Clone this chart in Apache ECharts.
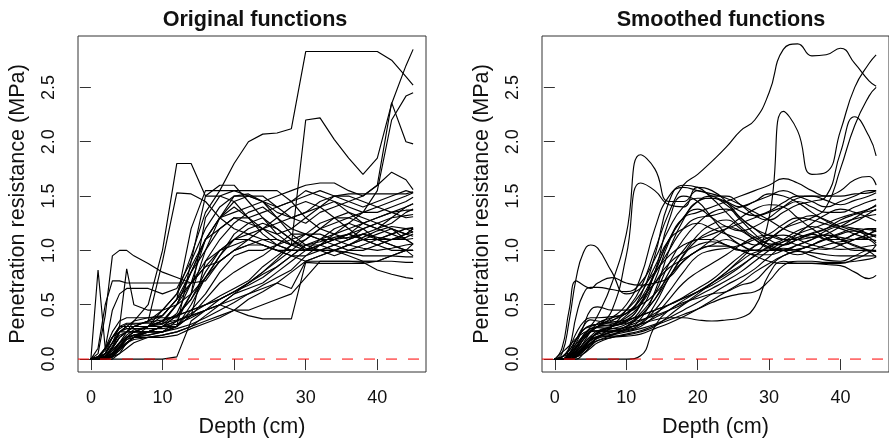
<!DOCTYPE html>
<html>
<head>
  <meta charset="UTF-8">
  <title>Original and smoothed functions</title>
  <script src="https://cdn.jsdelivr.net/npm/echarts@6/dist/echarts.min.js"></script>
  <style>
    html, body { margin: 0; padding: 0; background: #fff; }
    #main { width: 889px; height: 443px; }
  </style>
</head>
<body>
<div id="main"></div>
<script>
  // depth grid (cm) shared by every curve
  var depth = [0, 1, 2, 3, 4, 5, 6, 8, 10, 12, 14, 16, 18, 20, 22, 24, 26, 28, 30, 32, 34, 36, 38, 40, 42, 44, 45];
  var xTicks = [0, 10, 20, 30, 40];
  var yTicks = [0, 0.5, 1, 1.5, 2, 2.5];
  var xRange = [-1.8, 46.8];
  var yRange = [-0.119, 2.973];

  // penetration resistance (MPa), raw curves
  var originalCurves = [
    [0,0,0.02,0.05,0.1,0.15,0.2,0.3,0.45,0.6,0.95,1.35,1.55,1.8,2.0,2.07,2.08,2.12,2.83,2.83,2.83,2.83,2.83,2.83,2.75,2.6,2.52],
    [0,0,0.03,0.1,0.2,0.25,0.3,0.35,0.45,0.6,0.85,1.1,1.2,1.3,1.25,1.2,1.1,1.05,2.2,2.22,2.02,1.85,1.7,1.85,2.35,2.7,2.85],
    [0,0,0,0.02,0.1,0.2,0.25,0.3,0.35,0.5,0.8,1.1,1.3,1.45,1.5,1.5,1.4,1.3,1.25,1.35,1.4,1.45,1.5,1.6,2.36,2.0,1.98],
    [0,0,0,0,0.05,0.15,0.2,0.25,0.3,0.4,0.55,0.8,1.0,1.1,1.1,1.05,1.0,1.0,1.1,1.2,1.25,1.3,1.35,1.55,2.2,2.42,2.45],
    [0,0.02,0.05,0.15,0.25,0.3,0.35,0.5,1.0,1.8,1.8,1.5,1.5,1.55,1.5,1.45,1.4,1.45,1.5,1.55,1.5,1.45,1.4,1.45,1.5,1.55,1.53],
    [0,0,0.02,0.1,0.2,0.25,0.3,0.35,0.9,1.53,1.52,1.45,1.3,1.2,1.15,1.1,1.1,1.05,1.0,1.05,1.1,1.15,1.1,1.1,1.15,1.2,1.21],
    [0,0.05,0.4,0.95,1.0,1.0,0.95,0.88,0.8,0.75,0.7,0.85,1.0,1.1,1.15,1.2,1.25,1.3,1.35,1.4,1.45,1.4,1.35,1.35,1.4,1.45,1.49],
    [0,0.1,0.5,0.72,0.72,0.7,0.7,0.7,0.7,0.7,0.7,0.72,0.9,1.0,1.05,1.1,1.05,1.0,1.0,1.05,1.1,1.15,1.1,1.05,1.0,1.0,1.0],
    [0,0,0,0.05,0.1,0.15,0.2,0.25,0.3,0.35,0.4,0.45,0.5,0.45,0.4,0.37,0.37,0.37,0.89,0.88,0.88,0.88,0.88,0.9,0.95,1.0,1.06],
    [0,0,0,0,0,0,0,0,0,0.02,0.35,0.45,0.5,0.55,0.6,0.65,0.7,0.65,0.9,0.95,1.0,1.05,1.1,1.1,1.15,1.2,1.17],
    [0,0,0.05,0.15,0.25,0.3,0.3,0.3,0.35,0.5,0.7,0.9,1.0,1.05,1.1,1.05,1.0,0.95,0.9,0.9,0.9,0.9,0.89,0.82,0.78,0.75,0.74],
    [0,0,0,0.05,0.1,0.2,0.25,0.3,0.4,0.55,0.8,1.1,1.3,1.35,1.4,1.45,1.5,1.55,1.6,1.62,1.62,1.55,1.5,1.6,1.72,1.65,1.56],
    [0,0,0.02,0.1,0.2,0.25,0.3,0.35,0.4,0.55,1.2,1.55,1.55,1.55,1.55,1.55,1.55,1.45,1.3,1.2,1.15,1.1,1.15,1.2,1.3,1.4,1.43],
    [0,0.02,0.1,0.2,0.3,0.3,0.3,0.3,0.3,0.3,0.9,1.5,1.6,1.6,1.45,1.3,1.15,1.05,1.05,1.05,1.1,1.15,1.25,1.3,1.35,1.37,1.37],
    [0,0,0.02,0.05,0.15,0.25,0.35,0.38,0.38,0.38,0.6,1.3,1.5,1.45,1.3,1.15,1.05,1.0,1.0,1.05,1.15,1.25,1.35,1.4,1.35,1.3,1.31],
    [0,0,0,0.02,0.1,0.2,0.25,0.25,0.25,0.3,0.4,0.9,1.1,1.25,1.35,1.4,1.3,1.15,1.05,1.0,0.95,1.0,1.05,1.1,1.1,1.1,1.11],
    [0,0,0,0.03,0.1,0.18,0.22,0.25,0.3,0.35,0.42,0.5,0.58,0.65,0.72,0.85,0.95,1.05,1.1,1.2,1.3,1.35,1.3,1.25,1.2,1.15,1.17],
    [0,0,0.01,0.05,0.12,0.2,0.25,0.3,0.35,0.4,0.45,0.5,0.55,0.62,0.7,0.78,0.85,0.95,1.05,1.1,1.2,1.25,1.2,1.1,1.05,1.0,0.95],
    [0,0,0,0.02,0.08,0.15,0.2,0.22,0.25,0.28,0.32,0.38,0.45,0.52,0.6,0.68,0.75,0.82,0.95,1.05,1.0,0.95,0.9,0.9,0.95,1.0,1.0],
    [0,0,0,0.02,0.05,0.1,0.15,0.2,0.22,0.25,0.3,0.35,0.4,0.45,0.45,0.5,0.55,0.6,0.75,0.9,0.9,0.9,0.9,0.9,0.9,0.89,0.89],
    [0,0,0.05,0.2,0.3,0.33,0.33,0.33,0.33,0.5,0.8,1.0,1.2,1.3,1.3,1.35,1.4,1.45,1.55,1.5,1.45,1.35,1.25,1.2,1.25,1.35,1.38],
    [0,0,0.02,0.1,0.25,0.28,0.28,0.28,0.28,0.3,0.5,0.75,0.95,1.15,1.25,1.3,1.2,1.1,1.0,1.0,1.05,1.1,1.2,1.25,1.2,1.15,1.13],
    [0,0.02,0.1,0.25,0.35,0.38,0.38,0.38,0.4,0.55,0.7,0.85,0.9,1.0,1.1,1.2,1.3,1.4,1.45,1.4,1.3,1.2,1.1,1.05,1.1,1.15,1.2],
    [0,0.82,0.1,0.2,0.25,0.25,0.25,0.25,0.25,0.3,0.45,0.6,0.8,0.95,1.0,1.0,1.05,1.1,1.15,1.25,1.3,1.3,1.25,1.2,1.15,1.1,1.06],
    [0,0,0.05,0.15,0.3,0.83,0.5,0.45,0.45,0.5,0.6,0.75,0.9,1.0,1.05,1.05,1.0,0.95,0.95,1.0,1.05,1.1,1.15,1.1,1.05,1.0,1.0],
    [0,0,0.05,0.15,0.22,0.25,0.25,0.25,0.25,0.3,0.4,0.55,0.7,0.8,0.88,0.95,1.05,1.15,1.15,1.1,1.05,1.0,1.0,1.05,1.1,1.15,1.2],
    [0,0,0,0.05,0.12,0.18,0.2,0.2,0.22,0.25,0.3,0.4,0.5,0.6,0.65,0.7,0.8,0.9,1.0,1.1,1.15,1.2,1.25,1.3,1.35,1.4,1.43],
    [0,0,0.02,0.08,0.15,0.2,0.22,0.25,0.3,0.32,0.38,0.45,0.55,0.62,0.7,0.8,0.9,1.0,1.0,1.0,1.0,1.05,1.1,1.15,1.2,1.1,1.06],
    [0,0,0.01,0.04,0.1,0.15,0.18,0.2,0.2,0.22,0.28,0.33,0.38,0.45,0.55,0.62,0.7,0.8,0.9,0.95,1.0,0.98,0.95,0.95,0.95,0.94,0.94],
    [0,0,0.1,0.45,0.6,0.65,0.65,0.65,0.6,0.65,0.9,1.2,1.4,1.5,1.5,1.45,1.35,1.3,1.35,1.45,1.5,1.5,1.45,1.4,1.45,1.5,1.53],
    [0,0,0.03,0.12,0.25,0.3,0.3,0.3,0.32,0.42,0.7,1.1,1.3,1.4,1.3,1.2,1.15,1.2,1.3,1.4,1.5,1.52,1.52,1.52,1.52,1.52,1.54],
    [0,0,0,0.03,0.08,0.14,0.2,0.25,0.3,0.4,0.55,0.75,0.95,1.1,1.2,1.25,1.2,1.1,1.02,1.0,1.0,1.05,1.12,1.18,1.22,1.2,1.2],
    [0,0,0.02,0.08,0.15,0.22,0.27,0.3,0.33,0.36,0.4,0.45,0.5,0.6,0.7,0.8,0.92,1.05,1.15,1.15,1.1,1.05,1.02,1.0,1.02,1.05,1.06],
    [0,0,0.01,0.06,0.14,0.2,0.22,0.22,0.25,0.35,0.6,1.0,1.3,1.5,1.52,1.45,1.3,1.2,1.15,1.1,1.1,1.12,1.15,1.12,1.1,1.12,1.15],
    [0,0.02,0.08,0.2,0.28,0.32,0.32,0.34,0.36,0.4,0.45,0.5,0.55,0.62,0.68,0.75,0.85,0.95,1.05,1.08,1.12,1.15,1.2,1.25,1.3,1.32,1.33]
  ];

  // penetration resistance (MPa), smoothed curves
  var smoothedCurves = [
    [0,0,0.02,0.05,0.1,0.15,0.2,0.3,0.45,0.65,1.0,1.35,1.6,1.7,1.82,1.95,2.1,2.2,2.45,2.85,2.9,2.79,2.8,2.86,2.72,2.56,2.51],
    [0,0,0.03,0.1,0.18,0.25,0.3,0.35,0.45,0.6,0.85,1.1,1.2,1.25,1.2,1.15,1.1,1.05,1.3,2.28,2.1,1.7,1.72,2.1,2.5,2.72,2.8],
    [0,0,0,0.02,0.1,0.18,0.25,0.3,0.35,0.5,0.8,1.1,1.3,1.45,1.5,1.5,1.42,1.32,1.28,1.35,1.42,1.45,1.5,1.9,2.23,2.05,1.87],
    [0,0,0,0,0.05,0.12,0.2,0.25,0.3,0.4,0.55,0.8,1.0,1.1,1.1,1.05,1.0,1.0,1.1,1.2,1.25,1.3,1.4,1.75,2.15,2.42,2.5],
    [0,0.02,0.05,0.12,0.2,0.3,0.4,0.7,1.15,1.88,1.75,1.45,1.45,1.55,1.5,1.45,1.4,1.45,1.5,1.55,1.5,1.45,1.4,1.45,1.5,1.55,1.55],
    [0,0,0.02,0.08,0.18,0.25,0.3,0.45,0.95,1.62,1.55,1.42,1.4,1.58,1.55,1.45,1.3,1.2,1.1,1.05,1.1,1.15,1.1,1.1,1.15,1.2,1.2],
    [0,0.05,0.35,0.75,0.98,1.05,1.02,0.8,0.6,0.65,0.8,0.95,1.05,1.1,1.15,1.2,1.25,1.3,1.35,1.4,1.45,1.4,1.35,1.35,1.4,1.45,1.47],
    [0,0.1,0.45,0.72,0.68,0.65,0.7,0.75,0.7,0.68,0.7,0.75,0.9,1.0,1.05,1.1,1.05,1.0,1.0,1.05,1.1,1.15,1.1,1.05,1.0,1.0,1.0],
    [0,0,0,0.03,0.08,0.12,0.17,0.22,0.28,0.32,0.36,0.38,0.38,0.36,0.35,0.36,0.38,0.48,0.78,0.9,0.88,0.88,0.88,0.88,0.92,0.98,1.05],
    [0,0,0,0,0,0,0,0,0,0.03,0.3,0.45,0.52,0.56,0.6,0.62,0.68,0.72,0.85,0.95,1.0,1.05,1.1,1.1,1.15,1.2,1.17],
    [0,0,0.04,0.12,0.2,0.26,0.3,0.32,0.38,0.5,0.7,0.88,0.98,1.05,1.08,1.05,1.0,0.95,0.9,0.88,0.88,0.88,0.87,0.86,0.8,0.74,0.77],
    [0,0,0,0.04,0.1,0.18,0.24,0.3,0.4,0.55,0.8,1.1,1.3,1.35,1.4,1.45,1.5,1.55,1.6,1.66,1.62,1.55,1.5,1.55,1.65,1.68,1.6],
    [0,0,0.02,0.08,0.18,0.25,0.3,0.38,0.5,0.75,1.2,1.5,1.58,1.55,1.52,1.48,1.42,1.35,1.28,1.2,1.15,1.12,1.15,1.22,1.3,1.38,1.41],
    [0,0.02,0.08,0.18,0.27,0.3,0.32,0.36,0.42,0.58,0.95,1.45,1.6,1.58,1.48,1.35,1.22,1.12,1.06,1.05,1.1,1.15,1.2,1.28,1.33,1.36,1.37],
    [0,0,0.02,0.06,0.15,0.25,0.33,0.38,0.42,0.52,0.8,1.28,1.5,1.45,1.3,1.15,1.05,1.0,1.0,1.05,1.15,1.25,1.33,1.38,1.35,1.3,1.27],
    [0,0,0,0.02,0.09,0.18,0.24,0.28,0.32,0.42,0.6,0.88,1.1,1.25,1.35,1.38,1.28,1.15,1.05,1.0,0.96,1.0,1.05,1.08,1.1,1.1,1.09],
    [0,0,0,0.03,0.1,0.17,0.21,0.25,0.3,0.35,0.42,0.5,0.57,0.65,0.73,0.84,0.95,1.04,1.1,1.2,1.28,1.32,1.28,1.22,1.18,1.15,1.14],
    [0,0,0.01,0.05,0.12,0.19,0.24,0.3,0.35,0.4,0.45,0.5,0.56,0.62,0.7,0.78,0.86,0.95,1.04,1.1,1.18,1.22,1.18,1.1,1.04,0.99,0.94],
    [0,0,0,0.02,0.07,0.14,0.19,0.22,0.25,0.28,0.32,0.38,0.45,0.52,0.6,0.68,0.75,0.83,0.94,1.02,1.0,0.95,0.91,0.9,0.95,1.0,0.99],
    [0,0,0,0.02,0.05,0.1,0.15,0.2,0.23,0.26,0.31,0.36,0.41,0.46,0.52,0.57,0.6,0.62,0.72,0.86,0.9,0.9,0.89,0.89,0.9,0.92,0.94],
    [0,0,0.05,0.18,0.3,0.36,0.35,0.33,0.36,0.5,0.78,1.0,1.2,1.3,1.32,1.36,1.4,1.45,1.52,1.5,1.44,1.35,1.27,1.22,1.26,1.34,1.38],
    [0,0,0.02,0.1,0.22,0.28,0.29,0.28,0.29,0.33,0.5,0.75,0.96,1.14,1.24,1.28,1.2,1.1,1.02,1.0,1.05,1.1,1.18,1.22,1.2,1.15,1.12],
    [0,0.02,0.1,0.24,0.34,0.38,0.38,0.39,0.42,0.55,0.7,0.84,0.92,1.0,1.1,1.2,1.3,1.38,1.42,1.4,1.3,1.2,1.12,1.06,1.1,1.15,1.2],
    [0,0.06,0.12,0.19,0.24,0.26,0.26,0.26,0.27,0.32,0.45,0.62,0.8,0.95,1.0,1.02,1.05,1.1,1.15,1.24,1.3,1.28,1.24,1.2,1.15,1.1,1.05],
    [0,0,0.05,0.15,0.3,0.45,0.48,0.45,0.45,0.5,0.6,0.76,0.9,1.0,1.04,1.04,1.0,0.96,0.96,1.0,1.05,1.1,1.14,1.1,1.05,1.0,0.99],
    [0,0,0.05,0.14,0.21,0.25,0.26,0.25,0.26,0.3,0.4,0.55,0.7,0.8,0.88,0.96,1.05,1.12,1.14,1.1,1.05,1.02,1.01,1.05,1.1,1.15,1.18],
    [0,0,0,0.05,0.11,0.17,0.2,0.21,0.22,0.25,0.3,0.4,0.5,0.58,0.65,0.72,0.8,0.9,1.0,1.08,1.15,1.2,1.25,1.3,1.34,1.38,1.42],
    [0,0,0.02,0.07,0.14,0.2,0.23,0.26,0.29,0.32,0.38,0.45,0.54,0.62,0.7,0.8,0.9,0.98,1.0,1.0,1.01,1.05,1.1,1.15,1.18,1.12,1.07],
    [0,0,0.01,0.04,0.09,0.14,0.17,0.2,0.21,0.23,0.28,0.33,0.39,0.46,0.54,0.62,0.7,0.8,0.88,0.95,0.99,0.98,0.96,0.95,0.95,0.95,0.95],
    [0,0,0.1,0.4,0.6,0.66,0.66,0.64,0.62,0.7,0.92,1.2,1.4,1.48,1.48,1.44,1.36,1.32,1.36,1.44,1.5,1.5,1.46,1.42,1.46,1.5,1.53],
    [0,0,0.03,0.11,0.22,0.28,0.3,0.31,0.34,0.45,0.72,1.08,1.3,1.38,1.3,1.22,1.18,1.22,1.3,1.4,1.48,1.5,1.5,1.5,1.52,1.53,1.55],
    [0,0,0,0.03,0.08,0.14,0.2,0.25,0.3,0.4,0.55,0.75,0.95,1.1,1.18,1.22,1.18,1.1,1.03,1.0,1.01,1.05,1.11,1.16,1.2,1.19,1.18],
    [0,0,0.02,0.07,0.14,0.21,0.26,0.3,0.33,0.36,0.4,0.45,0.51,0.6,0.7,0.8,0.92,1.04,1.12,1.14,1.1,1.05,1.02,1.01,1.02,1.04,1.05],
    [0,0,0.01,0.05,0.12,0.18,0.21,0.23,0.27,0.37,0.62,1.0,1.28,1.45,1.48,1.42,1.3,1.2,1.14,1.1,1.1,1.12,1.14,1.12,1.1,1.12,1.14],
    [0,0.02,0.08,0.18,0.27,0.31,0.32,0.34,0.36,0.4,0.45,0.5,0.56,0.62,0.68,0.76,0.85,0.95,1.03,1.08,1.12,1.16,1.2,1.25,1.29,1.32,1.33]
  ];

  var font = 'Liberation Sans, Arial, Helvetica, sans-serif';

  function makeX(idx) {
    return {
      gridIndex: idx, type: 'value', min: xRange[0], max: xRange[1],
      splitLine: { show: false },
      axisLine: { show: false },
      axisTick: { customValues: xTicks, length: 11, lineStyle: { color: '#333' } },
      axisLabel: { customValues: xTicks, fontSize: 18, color: '#111', margin: 17, fontFamily: font },
      name: 'Depth (cm)', nameLocation: 'middle', nameGap: 44,
      nameTextStyle: { fontSize: 21.6, color: '#111', fontFamily: font }
    };
  }
  function makeY(idx) {
    return {
      gridIndex: idx, type: 'value', min: yRange[0], max: yRange[1],
      splitLine: { show: false },
      axisLine: { show: false },
      axisTick: { customValues: yTicks, length: 11, lineStyle: { color: '#333' } },
      axisLabel: {
        customValues: yTicks, fontSize: 18, color: '#111', margin: 20, rotate: 90, fontFamily: font,
        formatter: function (v) { return v.toFixed(1); }
      },
      name: 'Penetration resistance (MPa)', nameLocation: 'middle', nameGap: 49,
      nameTextStyle: { fontSize: 21.6, color: '#111', fontFamily: font }
    };
  }

  var series = [];
  function addCurves(curves, idx, smooth) {
    curves.forEach(function (c) {
      series.push({
        type: 'line', xAxisIndex: idx, yAxisIndex: idx,
        data: depth.map(function (d, i) { return [d, c[i]]; }),
        smooth: smooth, showSymbol: false, silent: true,
        color: '#000',
        lineStyle: { color: '#000', width: 1.15 },
        z: 2
      });
    });
    // zero reference line across the whole box
    series.push({
      type: 'line', xAxisIndex: idx, yAxisIndex: idx, silent: true,
      data: [[xRange[0], 0], [xRange[1], 0]],
      showSymbol: false, color: '#ff0000',
      lineStyle: { color: '#ff0000', type: [11, 11], width: 1 },
      z: 5
    });
  }
  addCurves(originalCurves, 0, false);
  addCurves(smoothedCurves, 1, 0.5);

  var option = {
    backgroundColor: '#fff',
    animation: false,
    title: [
      { text: 'Original functions', left: 250, top: 4, textAlign: 'center',
        textStyle: { fontSize: 21.6, fontWeight: 'bold', color: '#111', fontFamily: font } },
      { text: 'Smoothed functions', left: 716, top: 4, textAlign: 'center',
        textStyle: { fontSize: 21.6, fontWeight: 'bold', color: '#111', fontFamily: font } }
    ],
    grid: [
      { left: 78, top: 36, width: 348, height: 338, show: true, borderColor: '#333', borderWidth: 1, backgroundColor: 'transparent' },
      { left: 542, top: 36, width: 348, height: 338, show: true, borderColor: '#333', borderWidth: 1, backgroundColor: 'transparent' }
    ],
    xAxis: [makeX(0), makeX(1)],
    yAxis: [makeY(0), makeY(1)],
    series: series
  };
  echarts.init(document.getElementById('main')).setOption(option);
</script>
</body>
</html>
